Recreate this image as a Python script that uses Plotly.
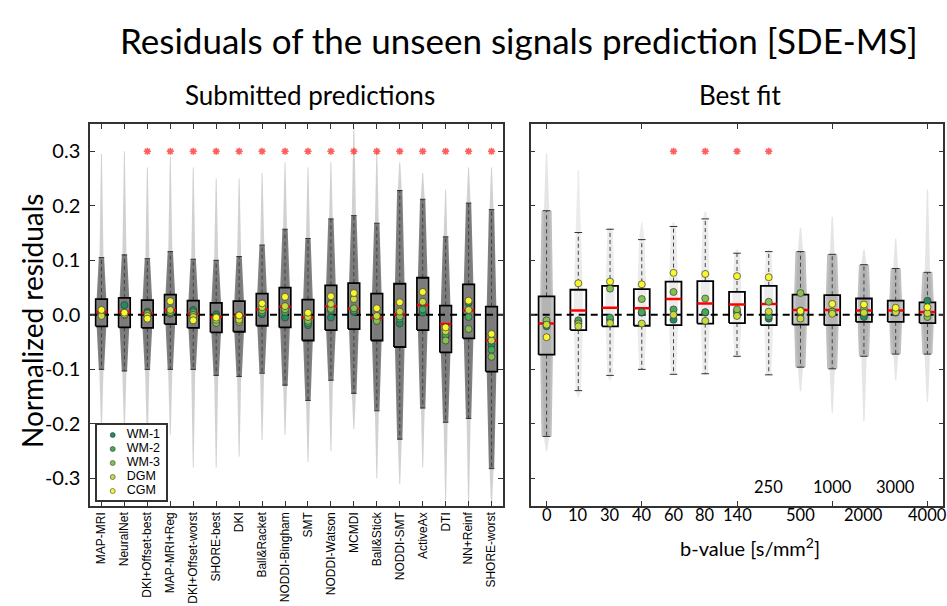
import plotly.graph_objects as go

# ---------------- data: Submitted predictions (left panel) ----------------
methods = ["MAP-MRI", "NeuralNet", "DKI+Offset-best", "MAP-MRI+Reg", "DKI+Offset-worst",
           "SHORE-best", "DKI", "Ball&Racket", "NODDI-Bingham", "SMT", "NODDI-Watson",
           "MCMDI", "Ball&Stick", "NODDI-SMT", "ActiveAx", "DTI", "NN+Reinf", "SHORE-worst"]
sub_q1 = [-0.021, -0.023, -0.024, -0.017, -0.024, -0.032, -0.031, -0.020, -0.023, -0.047,
          -0.028, -0.026, -0.047, -0.059, -0.028, -0.069, -0.043, -0.104]
sub_q3 = [0.029, 0.031, 0.027, 0.037, 0.026, 0.022, 0.025, 0.039, 0.050, 0.028,
          0.054, 0.058, 0.039, 0.057, 0.068, 0.017, 0.056, 0.015]
sub_med = [0.005, 0.005, 0.003, 0.009, 0.002, -0.004, -0.002, 0.010, 0.015, -0.005,
           0.016, 0.011, -0.006, 0.001, 0.018, -0.017, 0.008, -0.047]
sub_whi = [0.105, 0.110, 0.103, 0.116, 0.102, 0.100, 0.107, 0.128, 0.157, 0.140,
           0.176, 0.182, 0.168, 0.228, 0.212, 0.143, 0.205, 0.193]
sub_wlo = [-0.100, -0.103, -0.100, -0.100, -0.100, -0.111, -0.113, -0.107, -0.129, -0.157,
           -0.120, -0.144, -0.176, -0.228, -0.171, -0.197, -0.190, -0.282]
sub_tail_hi = [0.295, 0.300, 0.270, 0.290, 0.270, 0.250, 0.250, 0.260, 0.280, 0.270,
               0.280, 0.345, 0.300, 0.280, 0.260, 0.230, 0.270, 0.270]
sub_tail_lo = [-0.21, -0.21, -0.23, -0.22, -0.28, -0.28, -0.26, -0.23, -0.22, -0.27,
               -0.25, -0.21, -0.30, -0.31, -0.28, -0.34, -0.35, -0.35]
sub_dots = {
    "WM-1": [0.003, 0.018, 0.006, 0.002, 0.009, 0.001, -0.001, 0.001, -0.005, -0.019,
             -0.005, 0.005, -0.005, -0.016, 0.004, -0.040, 0.022, -0.055],
    "WM-2": [0.002, 0.002, 0.004, 0.003, 0.005, -0.003, -0.006, 0.004, 0.005, -0.015,
             0.008, 0.008, -0.008, -0.007, 0.010, -0.037, -0.004, -0.064],
    "WM-3": [0.000, 0.000, 0.002, 0.005, 0.000, -0.015, -0.013, 0.008, 0.010, -0.011,
             0.011, 0.012, -0.011, -0.003, 0.023, -0.047, -0.026, -0.077],
    "DGM":  [-0.002, 0.001, -0.002, 0.009, -0.004, -0.009, -0.009, 0.014, 0.016, -0.004,
             0.020, 0.029, -0.002, 0.006, 0.024, -0.030, 0.009, -0.047],
    "CGM":  [0.009, 0.004, -0.007, 0.025, -0.010, -0.005, -0.001, 0.021, 0.033, 0.004,
             0.034, 0.040, 0.012, 0.023, 0.042, -0.023, 0.026, -0.035],
}
sub_significant = [0, 0, 1, 1, 1, 1, 1, 1, 1, 1, 1, 1, 1, 1, 1, 1, 1, 1]

# ---------------- data: Best fit (right panel) ----------------
bvalues = ["0", "10", "30", "40", "60", "80", "140", "250", "500", "1000", "2000", "3000", "4000"]
bv_low_row = [1, 1, 1, 1, 1, 1, 1, 0, 1, 0, 1, 0, 1]   # 1: label under axis, 0: label raised
bv_tick_marks = [0, 3, 6, 9, 12]
fit_q1 = [-0.073, -0.028, -0.021, -0.020, -0.019, -0.016, -0.015, -0.019, -0.018, -0.019,
          -0.013, -0.013, -0.015]
fit_q3 = [0.034, 0.046, 0.053, 0.047, 0.061, 0.062, 0.042, 0.053, 0.037, 0.036,
          0.030, 0.026, 0.023]
fit_med = [-0.016, 0.008, 0.013, 0.012, 0.029, 0.021, 0.019, 0.020, 0.009, 0.009,
           0.008, 0.008, 0.005]
fit_whi = [0.191, 0.151, 0.157, 0.138, 0.162, 0.176, 0.113, 0.116, 0.116, 0.111,
           0.092, 0.085, 0.078]
fit_wlo = [-0.223, -0.139, -0.111, -0.100, -0.109, -0.108, -0.076, -0.110, -0.096, -0.099,
           -0.076, -0.072, -0.072]
fit_tail_hi = [0.296, 0.265, 0.160, 0.170, 0.170, 0.190, 0.120, 0.120, 0.160, 0.180,
               0.120, 0.140, 0.230]
fit_tail_lo = [-0.25, -0.15, -0.12, -0.10, -0.11, -0.11, -0.08, -0.11, -0.14, -0.18,
               -0.195, -0.12, -0.16]
fit_dense = [1, 0, 0, 0, 0, 0, 0, 0, 1, 1, 1, 1, 1]
fit_dots = {
    "WM-1": [-0.021, -0.012, -0.009, 0.004, -0.009, 0.004, 0.006, -0.007, 0.003, 0.004,
             -0.004, 0.004, 0.026],
    "WM-2": [-0.014, -0.010, -0.005, 0.005, 0.010, 0.005, 0.004, -0.003, 0.008, 0.005,
             0.006, 0.006, 0.002],
    "WM-3": [-0.010, -0.016, 0.048, 0.029, 0.042, 0.030, 0.010, 0.024, 0.040, 0.006,
             0.010, 0.007, -0.004],
    "DGM":  [-0.018, -0.021, -0.015, -0.016, 0.000, -0.011, -0.002, 0.006, -0.007, 0.002,
             0.004, 0.005, 0.003],
    "CGM":  [-0.041, 0.058, 0.061, 0.056, 0.077, 0.075, 0.071, 0.069, 0.007, 0.020,
             0.019, 0.013, 0.014],
}
fit_significant = [0, 0, 0, 0, 1, 1, 1, 1, 0, 0, 0, 0, 0]

tissues = ["WM-1", "WM-2", "WM-3", "DGM", "CGM"]
significance_level = 0.3
y_ticks = [-0.3, -0.2, -0.1, 0.0, 0.1, 0.2, 0.3]
y_ticktext = ["-0.3", "-0.2", "-0.1", "0.0", "0.1", "0.2", "0.3"]

# ---------------- styles ----------------
tissue_colors = {"WM-1": "#238b5e", "WM-2": "#46a85a", "WM-3": "#86c24c",
                 "DGM": "#c9dc3c", "CGM": "#f8f82a"}
TITLE_FONT = "Lato"
ARIAL = "Liberation Sans"
Y_RANGE = [-0.35, 0.35]
BOX_HW = 0.25
CAP_HW = 0.12
W, H = 947, 606

fig = go.Figure()


def add_panel(xa, ya, q1, q3, med, wlo, whi, tlo, thi, dense, dots, sig,
              dense_col, light_col, sparse_col, dense_w, taper):
    n = len(q1)
    # light cloud (sparse tails)
    for group, col in ((1, light_col), (0, sparse_col)):
        xs, ys = [], []
        for c in range(n):
            if dense[c] != group:
                continue
            w = dense_w * 0.7
            pts = [(c - 0.02, tlo[c]), (c + 0.02, tlo[c]), (c + w * 0.6, wlo[c]),
                   (c + w, q1[c]), (c + w, q3[c]), (c + w * 0.6, whi[c]),
                   (c + 0.02, thi[c]), (c - 0.02, thi[c]), (c - w * 0.6, whi[c]),
                   (c - w, q3[c]), (c - w, q1[c]), (c - w * 0.6, wlo[c]), (c - 0.02, tlo[c])]
            xs += [p[0] for p in pts] + [None]
            ys += [p[1] for p in pts] + [None]
        if xs:
            fig.add_trace(go.Scatter(x=xs, y=ys, xaxis=xa, yaxis=ya, mode="lines",
                                     fill="toself", fillcolor=col, line=dict(width=0),
                                     hoverinfo="skip", showlegend=False))
    # dense cloud
    xs, ys = [], []
    for c in range(n):
        if not dense[c]:
            continue
        w = dense_w
        t = w * taper
        pts = [(c - t, wlo[c]), (c + t, wlo[c]), (c + w, q1[c]), (c + w, q3[c]),
               (c + t, whi[c]), (c - t, whi[c]), (c - w, q3[c]), (c - w, q1[c]),
               (c - t, wlo[c])]
        xs += [p[0] for p in pts] + [None]
        ys += [p[1] for p in pts] + [None]
    fig.add_trace(go.Scatter(x=xs, y=ys, xaxis=xa, yaxis=ya, mode="lines", fill="toself",
                             fillcolor=dense_col, line=dict(width=0), hoverinfo="skip",
                             showlegend=False))
    # whiskers
    xs, ys = [], []
    for c in range(n):
        xs += [c, c, None, c, c, None]
        ys += [q3[c], whi[c], None, q1[c], wlo[c], None]
    fig.add_trace(go.Scatter(x=xs, y=ys, xaxis=xa, yaxis=ya, mode="lines",
                             line=dict(color="#444", width=1, dash="4px,3px"),
                             hoverinfo="skip", showlegend=False))
    xs, ys = [], []
    for c in range(n):
        xs += [c - CAP_HW, c + CAP_HW, None, c - CAP_HW, c + CAP_HW, None]
        ys += [whi[c], whi[c], None, wlo[c], wlo[c], None]
    fig.add_trace(go.Scatter(x=xs, y=ys, xaxis=xa, yaxis=ya, mode="lines",
                             line=dict(color="#333", width=1), hoverinfo="skip",
                             showlegend=False))
    # zero line
    fig.add_trace(go.Scatter(x=[-0.5, n - 0.5], y=[0, 0], xaxis=xa, yaxis=ya, mode="lines",
                             line=dict(color="black", width=2, dash="7px,5px"),
                             hoverinfo="skip", showlegend=False))
    # boxes
    xs, ys = [], []
    for c in range(n):
        xs += [c - BOX_HW, c + BOX_HW, c + BOX_HW, c - BOX_HW, c - BOX_HW, None]
        ys += [q1[c], q1[c], q3[c], q3[c], q1[c], None]
    fig.add_trace(go.Scatter(x=xs, y=ys, xaxis=xa, yaxis=ya, mode="lines",
                             line=dict(color="black", width=1.8), hoverinfo="skip",
                             showlegend=False))
    # medians
    xs, ys = [], []
    for c in range(n):
        xs += [c - BOX_HW, c + BOX_HW, None]
        ys += [med[c], med[c], None]
    fig.add_trace(go.Scatter(x=xs, y=ys, xaxis=xa, yaxis=ya, mode="lines",
                             line=dict(color="#ff0000", width=2.5), hoverinfo="skip",
                             showlegend=False))
    # tissue dots
    for name in tissues:
        fig.add_trace(go.Scatter(x=list(range(n)), y=dots[name], xaxis=xa, yaxis=ya,
                                 mode="markers", name=name, showlegend=False,
                                 marker=dict(size=7, color=tissue_colors[name],
                                             line=dict(color="#3a3a3a", width=0.7))))
    # significance stars
    sx = [c for c in range(n) if sig[c]]
    fig.add_trace(go.Scatter(x=sx, y=[significance_level] * len(sx), xaxis=xa, yaxis=ya,
                             mode="markers", hoverinfo="skip", showlegend=False,
                             marker=dict(symbol="asterisk-open", size=6,
                                         color="rgba(255,40,40,0.75)",
                                         line=dict(color="rgba(255,40,40,0.75)", width=1.6))))


add_panel("x", "y", sub_q1, sub_q3, sub_med, sub_wlo, sub_whi, sub_tail_lo, sub_tail_hi,
          [1] * len(methods), sub_dots, sub_significant,
          "rgba(108,108,108,0.85)", "rgba(140,140,140,0.40)", "rgba(160,160,160,0.2)", 0.21, 0.55)
add_panel("x2", "y2", fit_q1, fit_q3, fit_med, fit_wlo, fit_whi, fit_tail_lo, fit_tail_hi,
          fit_dense, fit_dots, fit_significant,
          "rgba(140,140,140,0.55)", "rgba(160,160,160,0.28)", "rgba(170,170,170,0.22)", 0.2, 0.8)

# legend drawn as its own small boxed subplot (one row per tissue)
leg_rows = list(range(len(tissues) - 1, -1, -1))
fig.add_trace(go.Scatter(x=[0] * len(tissues), y=leg_rows, xaxis="x3", yaxis="y3",
                         mode="markers", hoverinfo="skip", showlegend=False,
                         marker=dict(size=5, color=[tissue_colors[t] for t in tissues],
                                     line=dict(color="#3a3a3a", width=0.6))))
fig.add_trace(go.Scatter(x=[1] * len(tissues), y=leg_rows, xaxis="x3", yaxis="y3",
                         mode="text", text=tissues, textposition="middle right",
                         hoverinfo="skip", showlegend=False,
                         textfont=dict(family=ARIAL, size=12.5, color="black")))

axis_common = dict(showline=True, linecolor="#333", linewidth=1.5, mirror="ticks",
                   ticks="inside", ticklen=5, tickcolor="#333", showgrid=False, zeroline=False)

fig.update_layout(
    width=W, height=H, margin=dict(l=0, r=0, t=0, b=0),
    paper_bgcolor="white", plot_bgcolor="white",
    xaxis=dict(domain=[90 / W, 503 / W], range=[-0.5, len(methods) - 0.5],
               tickvals=list(range(len(methods))), ticktext=methods, tickangle=-90,
               tickfont=dict(family=ARIAL, size=12, color="black"), anchor="y", **axis_common),
    yaxis=dict(domain=[1 - 505.7 / H, 1 - 124 / H], range=Y_RANGE, tickvals=y_ticks,
               ticktext=y_ticktext, tickfont=dict(family=TITLE_FONT, size=20, color="black"),
               anchor="x", ticklabelstandoff=4, **axis_common),
    xaxis2=dict(domain=[530.7 / W, 943.3 / W], range=[-0.5, len(bvalues) - 0.5],
                tickvals=bv_tick_marks, showticklabels=False, anchor="y2", **axis_common),
    yaxis2=dict(domain=[1 - 505.7 / H, 1 - 124 / H], range=Y_RANGE, tickvals=y_ticks,
                showticklabels=False, anchor="x2", **axis_common),
    xaxis3=dict(domain=[96.7 / W, 165.7 / W], range=[-16 / 14, 53 / 14], anchor="y3",
                showticklabels=False, ticks="", showgrid=False, zeroline=False,
                showline=True, mirror=True, linecolor="#333", linewidth=2, fixedrange=True),
    yaxis3=dict(domain=[1 - 500 / H, 1 - 425 / H], range=[-9 / 14, 4 + 10 / 14], anchor="x3",
                showticklabels=False, ticks="", showgrid=False, zeroline=False,
                showline=True, mirror=True, linecolor="#333", linewidth=2, fixedrange=True),
    showlegend=False,
)


def pan(text, x, y, size, xref="paper", angle=0, family=TITLE_FONT):
    return dict(text=text, x=x, y=y, xref=xref, yref="paper", showarrow=False,
                xanchor="center", yanchor="middle", textangle=angle,
                font=dict(family=family, size=size, color="black"))


annotations = [
    pan("Residuals of the unseen signals prediction [SDE-MS]", 519 / W, 1 - 40 / H, 35),
    pan("Submitted predictions", 309.5 / W, 1 - 95 / H, 26),
    pan("Best fit", 740 / W, 1 - 95 / H, 26),
    pan("Normalized residuals", 32 / W, 1 - 321 / H, 28, angle=-90),
    pan("b-value [s/mm<sup>2</sup>]", 750 / W, 1 - 547 / H, 20),
]
for i, lab in enumerate(bvalues):
    ypix = 515 if bv_low_row[i] else 486.7
    annotations.append(pan(lab, i, 1 - ypix / H, 16.5, xref="x2"))
fig.update_layout(annotations=annotations)

fig.write_html("out.html", config={"displayModeBar": False},
               post_script="document.body.style.margin='0px';")
